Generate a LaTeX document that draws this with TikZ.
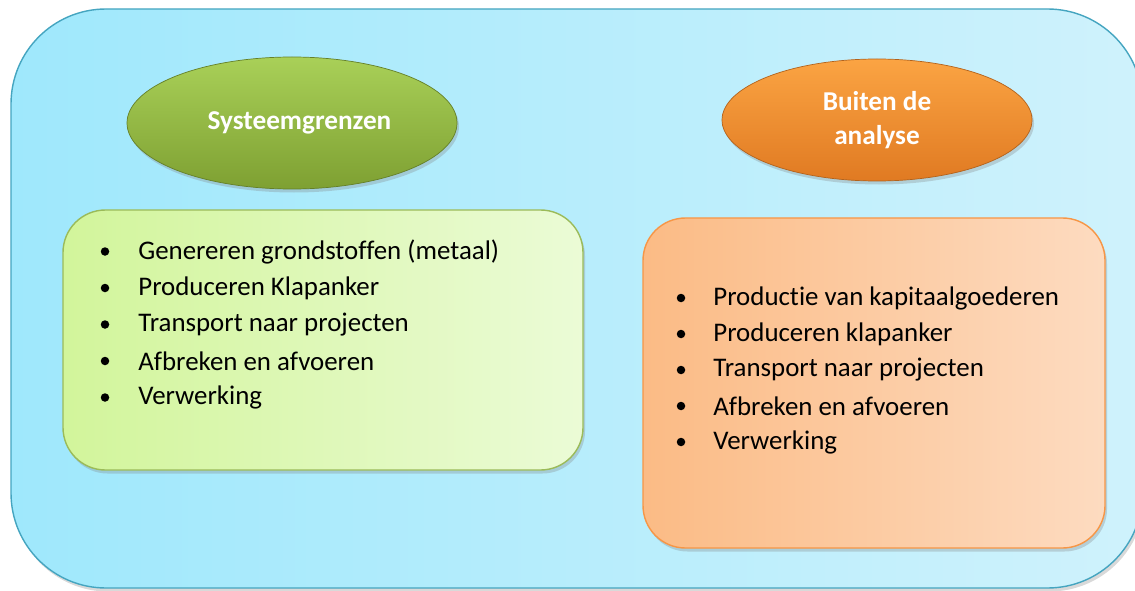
\documentclass[tikz,border=0pt]{standalone}
\usepackage{fontspec}
\setmainfont{Carlito}[Ligatures=NoCommon]
\usepackage{xcolor}
\usepackage{tikz}
\usetikzlibrary{shapes.geometric,shadows}
\definecolor{skyfill}{HTML}{9FE8FC}
\definecolor{skylight}{HTML}{CFF2FC}
\definecolor{skyedge}{HTML}{45A5C0}
\definecolor{limefill}{HTML}{D2F59B}
\definecolor{limelight}{HTML}{EBFBD6}
\definecolor{limeedge}{HTML}{9BBB59}
\definecolor{peachfill}{HTML}{FBBB85}
\definecolor{peachlight}{HTML}{FDDBC0}
\definecolor{peachedge}{HTML}{F79646}
\definecolor{olivetop}{HTML}{A9D058}
\definecolor{olivebottom}{HTML}{7EA032}
\definecolor{ambertop}{HTML}{FBA443}
\definecolor{amberbottom}{HTML}{E07A22}

\begin{document}
\begin{tikzpicture}[
    font=\fontsize{15.3}{18}\selectfont,
    softshadow/.style={drop shadow={opacity=0.3,shadow xshift=0.04cm,
      shadow yshift=-0.07cm}},
    listbox/.style={draw,thick,rounded corners=0.85cm,softshadow},
    titleoval/.style={ellipse,draw,thin,inner sep=0pt,softshadow,
      text=white,font=\fontsize{15.5}{19.5}\selectfont\bfseries,align=center},
    itemtext/.style={anchor=west,inner sep=0pt}
  ]
    \useasboundingbox (0,0) rectangle (22.7,11.8);
    % outer frame
    \path[draw=skyedge,thick,left color=skyfill,right color=skylight,
      rounded corners=1.9cm,softshadow]
      (0.22,0.04) rectangle (22.85,11.62);

    % headings
    \node[titleoval,minimum width=6.6cm,minimum height=2.64cm,
      draw=olivebottom!80!black,top color=olivetop,bottom color=olivebottom]
      (inside) at (5.84,9.34) {\hspace*{0.3cm}Systeemgrenzen};
    \node[titleoval,minimum width=6.2cm,minimum height=2.44cm,
      draw=amberbottom!80!black,top color=ambertop,bottom color=amberbottom]
      (outside) at (17.54,9.4) {Buiten de\\analyse};

    % list boxes
    \path[listbox,draw=limeedge,left color=limefill,right color=limelight]
      (1.26,2.4) rectangle (11.66,7.6);
    \path[listbox,draw=peachedge,left color=peachfill,right color=peachlight]
      (12.86,0.84) rectangle (22.1,7.44);

    \foreach \txt [count=\i] in {Genereren grondstoffen (metaal),
      Produceren Klapanker,Transport naar projecten,
      Afbreken en afvoeren,Verwerking} {
      \pgfmathsetmacro{\ypos}{6.77-0.73*(\i-1)}
      \fill (2.1,\ypos) circle (0.085);
      \node[itemtext] (in\i) at (2.76,\ypos) {\txt};
    }
    \foreach \txt [count=\i] in {Productie van kapitaalgoederen,
      Produceren klapanker,Transport naar projecten,
      Afbreken en afvoeren,Verwerking} {
      \pgfmathsetmacro{\ypos}{5.84-0.72*(\i-1)}
      \fill (13.62,\ypos) circle (0.085);
      \node[itemtext] (out\i) at (14.26,\ypos) {\txt};
    }
  \end{tikzpicture}
\end{document}
